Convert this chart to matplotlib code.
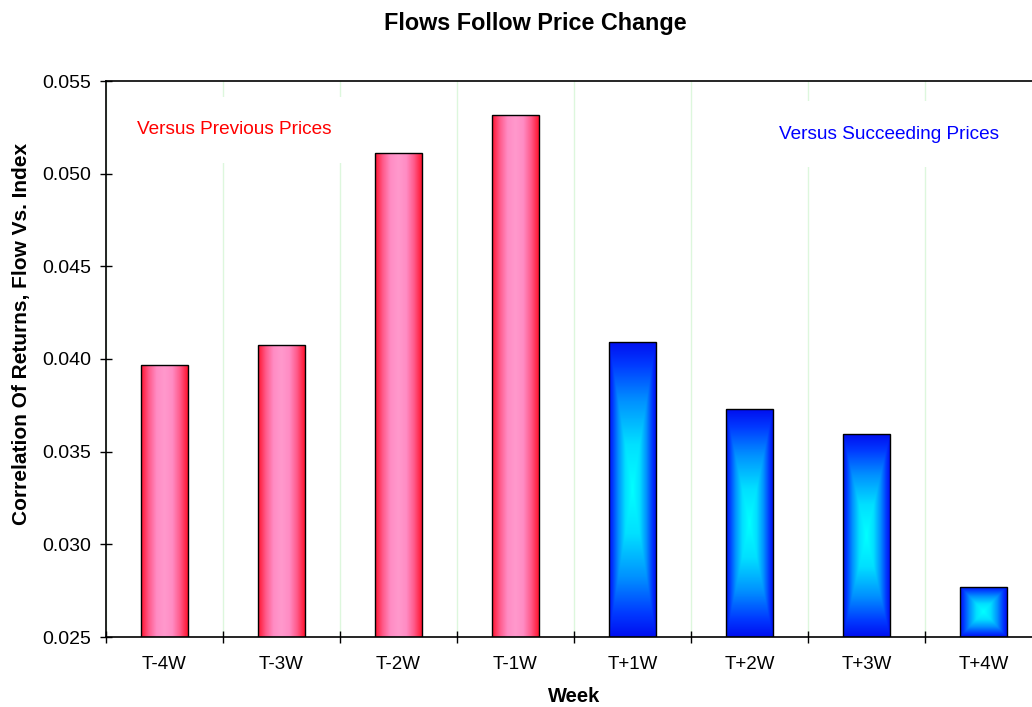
import numpy as np
import matplotlib
matplotlib.use('Agg')
import matplotlib.pyplot as plt
from matplotlib.colors import LinearSegmentedColormap

plt.rcParams['font.family'] = ['Liberation Sans', 'DejaVu Sans']

# data
weeks = ['T-4W', 'T-3W', 'T-2W', 'T-1W', 'T+1W', 'T+2W', 'T+3W', 'T+4W']
correlation = [0.03968, 0.04076, 0.05112, 0.05317, 0.04092, 0.03730, 0.03595, 0.02770]
is_previous = [True, True, True, True, False, False, False, False]

red_cmap = LinearSegmentedColormap.from_list('pinkred', ['#ff99cc', '#ff8cc4', '#ff5a8a', '#ff1530'])
blue_cmap = LinearSegmentedColormap.from_list(
    'cyanblue', [(0, '#00ffff'), (0.3, '#00e0ff'), (0.6, '#0090ff'), (0.85, '#0038ff'), (1, '#0010f0')])

fig = plt.figure(figsize=(10.32, 7.07), dpi=100)
ax = fig.add_axes([106 / 1032, 70 / 707, 936 / 1032, 556 / 707])

x = np.arange(len(weeks))
bars = ax.bar(x, correlation, width=0.4, bottom=0, color='none',
              edgecolor='black', linewidth=1.0, zorder=3)

# gradient fills clipped to each bar
n = 200
u = np.linspace(-1, 1, n)
U, V = np.meshgrid(u, u)
horiz = np.abs(U)
rect = np.maximum(np.abs(U), np.abs(V))
for bar, prev in zip(bars, is_previous):
    x0, y0 = bar.get_x(), 0.025
    x1, y1 = x0 + bar.get_width(), bar.get_height()
    if prev:
        img = ax.imshow(horiz, cmap=red_cmap, extent=(x0, x1, y0, y1),
                        aspect='auto', zorder=2, interpolation='bilinear')
    else:
        img = ax.imshow(rect, cmap=blue_cmap, extent=(x0, x1, y0, y1),
                        aspect='auto', zorder=2, interpolation='bilinear')
    img.set_clip_path(bar)

ax.set_xlim(-0.5, len(weeks) - 0.5)
ax.set_ylim(0.025, 0.055)
yt = np.arange(0.025, 0.0551, 0.005)
ax.set_yticks(yt)
ax.set_yticklabels([f'{v:.3f}' for v in yt])
ax.set_xticks(x)
ax.set_xticklabels(weeks)
ax.set_xticks(np.arange(-0.5, len(weeks)), minor=True)
ax.tick_params(axis='x', which='major', length=0, pad=14, labelsize=13.5)
ax.tick_params(axis='x', which='minor', direction='inout', length=9, width=1)
ax.tick_params(axis='y', direction='inout', length=9, width=1, pad=6, labelsize=14)
ax.grid(True, axis='x', which='minor', color='#ddf7dd', linewidth=1, zorder=0)
ax.set_axisbelow(True)
for s in ax.spines.values():
    s.set_linewidth(1.2)

ax.set_title('Flows Follow Price Change', fontsize=16.8, fontweight='bold', pad=37, x=0.459)
ax.set_xlabel('Week', fontsize=14.5, fontweight='bold', labelpad=10)
ax.set_ylabel('Correlation Of Returns, Flow Vs. Index', fontsize=15, fontweight='bold')
ax.yaxis.set_label_coords(-0.080, 0.545)

box = dict(facecolor='white', edgecolor='none', boxstyle='square,pad=1.3')
ax.text(0.60, 0.05236, 'Versus Previous Prices', color='#ff0000', fontsize=13.7,
        ha='center', va='center', bbox=box, zorder=1)
ax.text(6.19, 0.05214, 'Versus Succeeding Prices', color='#0000ff', fontsize=13.7,
        ha='center', va='center', bbox=box, zorder=1)

fig.savefig('out.png', dpi=100)
